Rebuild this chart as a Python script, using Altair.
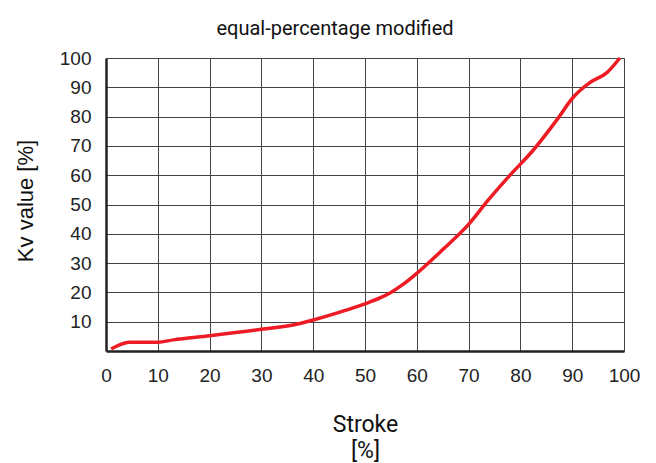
import altair as alt
import pandas as pd

stroke = [1, 4.5, 10, 13, 20, 30, 37, 40, 45, 50, 53, 55, 57.4, 60, 65, 70, 73.7, 78, 82.5, 87, 90.2, 93.4, 96.7, 99.2]
kv = [0.7, 3, 3, 3.8, 5.2, 7.4, 9.2, 10.6, 13.2, 16.1, 18.2, 20, 22.8, 26.5, 34.6, 43.2, 51.3, 60, 68.6, 78.8, 86.6, 91.6, 95, 100]

x_ticks = list(range(0, 101, 10))
y_ticks = list(range(10, 101, 10))

df = pd.DataFrame({"stroke": stroke, "kv": kv})

W, H = 518, 293

chart = alt.Chart(df).mark_line(
    color="#ED1C24", strokeWidth=3.5, interpolate="monotone"
).encode(
    x=alt.X(
        "stroke:Q",
        scale=alt.Scale(domain=[0, 100], nice=False, zero=False),
        axis=alt.Axis(
            values=x_ticks,
            title=["Stroke", "[%]"],
            titleFont="Roboto",
            titleFontSize=23,
            titleFontWeight="normal",
            titleColor="#111",
            titleX=W / 2,
            titleY=80,
            titleAlign="center",
            titleBaseline="alphabetic",
            titleLineHeight=26,
            labelFont="Liberation Sans",
            labelFontSize=19,
            labelColor="#222",
            labelPadding=15,
            ticks=False,
            tickSize=0,
            labelFlush=False,
            labelOverlap=False,
            grid=True,
            gridColor="#444",
            gridWidth=1,
            gridOpacity=1,
            domainColor="#222",
            domainWidth=2.5,
        ),
    ),
    y=alt.Y(
        "kv:Q",
        scale=alt.Scale(domain=[0, 100], nice=False, zero=False),
        axis=alt.Axis(
            values=y_ticks,
            title="Kv value [%]",
            titleFont="Liberation Sans",
            titleFontSize=22,
            titleFontWeight="normal",
            titleColor="#111",
            titleAngle=270,
            titleX=-74,
            titleY=142.5,
            titleAlign="center",
            titleBaseline="alphabetic",
            labelFont="Liberation Sans",
            labelFontSize=19,
            labelColor="#222",
            labelPadding=15,
            ticks=False,
            tickSize=0,
            labelFlush=False,
            labelOverlap=False,
            grid=True,
            gridColor="#444",
            gridWidth=1,
            gridOpacity=1,
            domainColor="#222",
            domainWidth=2.5,
        ),
    ),
).properties(
    width=W,
    height=H,
    title=alt.TitleParams(
        "equal-percentage modified",
        font="Roboto",
        fontSize=20,
        fontWeight="normal",
        color="#111",
        anchor="middle",
        frame="group",
        dx=-30,
        baseline="alphabetic",
        offset=-6,
    ),
    autosize=alt.AutoSizeParams(type="none"),
    padding={"left": 98, "top": 50, "right": 24, "bottom": 112},
).configure_view(stroke=None)

chart.save("out.html", embed_options={"renderer": "svg", "actions": False})
